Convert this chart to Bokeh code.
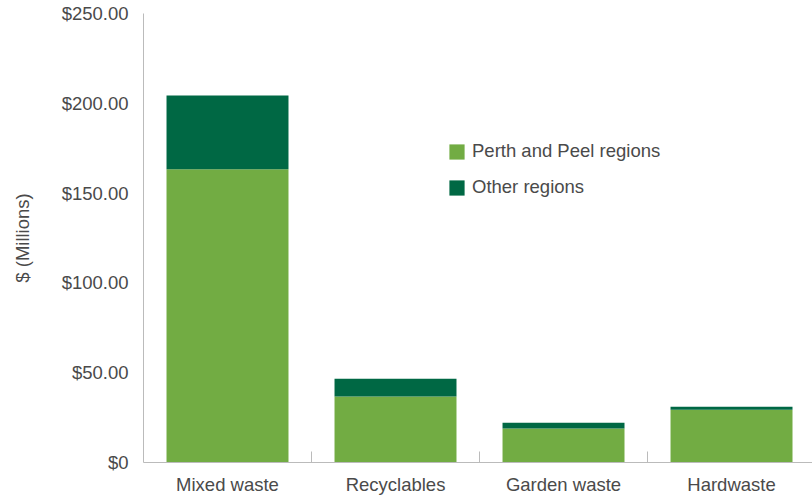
from bokeh.plotting import figure
from bokeh.models import Range1d, FixedTicker, ColumnDataSource, Legend, LegendItem
from bokeh.embed import file_html
from bokeh.resources import INLINE

categories = ["Mixed waste", "Recyclables", "Garden waste", "Hardwaste"]
perth_peel = [163.3, 36.7, 18.9, 29.4]
other = [41.1, 10.0, 3.3, 1.7]
y_ticks = [0, 50, 100, 150, 200, 250]
y_tick_labels = ["$0", "$50.00", "$100.00", "$150.00", "$200.00", "$250.00"]

LIGHT = "#72AC43"
DARK = "#006844"
TXT = "#4a4a4a"
FONT = "Liberation Sans"
FS = "18.5px"

xs = [i + 0.5 for i in range(len(categories))]
tops = [a + b for a, b in zip(perth_peel, other)]
src = ColumnDataSource(dict(x=xs, pp=perth_peel, top=tops))

p = figure(width=812, height=497, output_backend="svg", toolbar_location=None,
           x_range=Range1d(0, 3.982), y_range=Range1d(0, 250),
           min_border_left=143, min_border_right=0, min_border_top=13, min_border_bottom=34)
p.outline_line_color = None
p.xgrid.grid_line_color = None
p.ygrid.grid_line_color = None
p.background_fill_color = "white"

r1 = p.vbar(x="x", width=0.726, bottom=0, top="pp", source=src, fill_color=LIGHT, line_color=None)
r2 = p.vbar(x="x", width=0.726, bottom="pp", top="top", source=src, fill_color=DARK, line_color=None)

# x axis
xa = p.xaxis[0]
xa.ticker = FixedTicker(ticks=xs, minor_ticks=[1, 2, 3])
xa.major_label_overrides = {x: c for x, c in zip(xs, categories)}
xa.major_tick_line_color = None
xa.minor_tick_line_color = "#bbbbbb"
xa.minor_tick_in = 11
xa.minor_tick_out = 0
xa.axis_line_color = "#bbbbbb"
xa.major_label_text_font = FONT
xa.major_label_text_font_size = FS
xa.major_label_text_color = TXT
xa.major_label_standoff = 5

# y axis
ya = p.yaxis[0]
ya.ticker = FixedTicker(ticks=y_ticks)
ya.major_label_overrides = {t: l for t, l in zip(y_ticks, y_tick_labels)}
ya.major_tick_line_color = None
ya.minor_tick_line_color = None
ya.axis_line_color = "#bbbbbb"
ya.major_label_text_font = FONT
ya.major_label_text_font_size = FS
ya.major_label_text_color = TXT
ya.major_label_standoff = 9
ya.axis_label = "$ (Millions)"
ya.axis_label_text_font = FONT
ya.axis_label_text_font_size = FS
ya.axis_label_text_font_style = "normal"
ya.axis_label_text_color = TXT
ya.axis_label_standoff = 26

legend = Legend(items=[LegendItem(label="Perth and Peel regions", renderers=[r1]),
                       LegendItem(label="Other regions", renderers=[r2])],
                location=(304, 264), border_line_color=None, background_fill_alpha=0,
                glyph_width=19, glyph_height=19, spacing=14, label_standoff=6,
                label_text_font=FONT, label_text_font_size=FS, label_text_color=TXT,
                padding=0, margin=0)
p.add_layout(legend)

open("out.html", "w").write(file_html(p, INLINE))
